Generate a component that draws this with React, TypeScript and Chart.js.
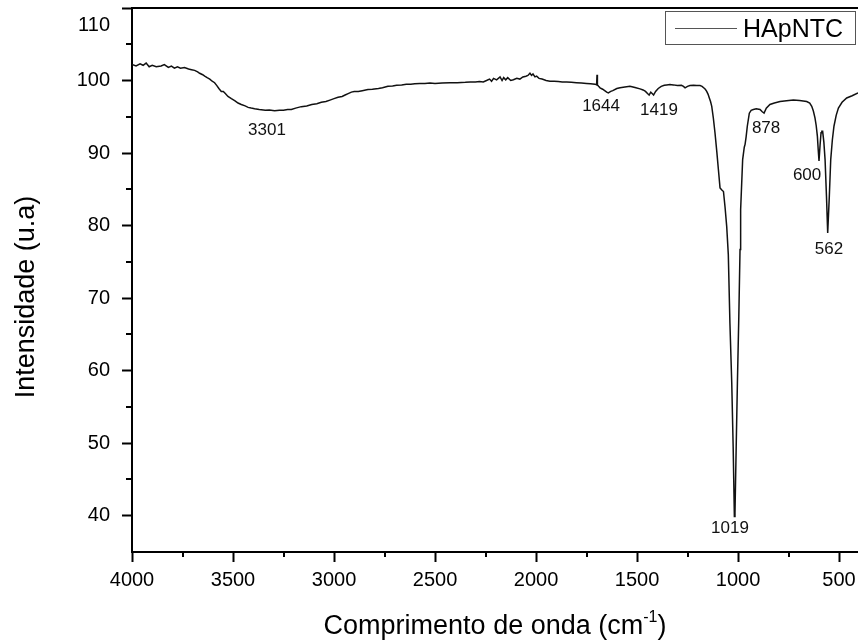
import React, { useEffect, useRef } from 'react';
import { Chart, registerables } from 'chart.js';

Chart.register(...registerables);
Chart.defaults.font.family = "'Liberation Sans', Arial, sans-serif";

const seriesLabel = 'HApNTC';
const xTitleMain = 'Comprimento de onda (cm';
const xTitleSup = '-1';
const xTitleEnd = ')';
const yTitle = 'Intensidade (u.a)';

const wavenumbers = [
  4000, 3980, 3960, 3945, 3930, 3915, 3900, 3880, 3856, 3840,
  3820, 3805, 3790, 3775, 3760, 3740, 3720, 3705, 3690, 3675,
  3665, 3650, 3640, 3628, 3615, 3603, 3591, 3580, 3570, 3558,
  3548, 3538, 3525, 3508, 3490, 3475, 3459, 3440, 3425, 3410,
  3393, 3370, 3340, 3320, 3294, 3270, 3250, 3230, 3211, 3190,
  3162, 3135, 3110, 3085, 3063, 3040, 3020, 3000, 2980, 2960,
  2945, 2930, 2914, 2900, 2880, 2860, 2832, 2810, 2780, 2760,
  2733, 2710, 2690, 2665, 2642, 2620, 2600, 2575, 2550, 2525,
  2500, 2465, 2426, 2390, 2350, 2325, 2300, 2280, 2261, 2245,
  2230, 2220, 2210, 2195, 2178, 2168, 2160, 2150, 2140, 2125,
  2112, 2095, 2080, 2065, 2050, 2040, 2030, 2022, 2015, 2005,
  1997, 1985, 1970, 1950, 1931, 1910, 1890, 1870, 1848, 1825,
  1800, 1775, 1750, 1730, 1708, 1700, 1698, 1696, 1690, 1683,
  1670, 1660, 1650, 1642, 1630, 1620, 1600, 1584, 1560, 1535,
  1510, 1485, 1470, 1458, 1448, 1440, 1432, 1425, 1418, 1408,
  1395, 1380, 1365, 1353, 1337, 1320, 1300, 1280, 1270, 1262,
  1250, 1238, 1220, 1205, 1188, 1178, 1170, 1162, 1155, 1148,
  1142, 1136, 1130, 1122, 1114, 1105, 1097, 1089, 1080, 1072,
  1064, 1056, 1048, 1040, 1031, 1024, 1018, 1015, 1009, 1003,
  996, 990, 987, 977, 969, 965, 960, 954, 944, 935,
  924, 910, 891, 880, 871, 860, 842, 820, 792, 760,
  726, 695, 660, 645, 635, 627, 619, 613, 607, 603,
  599, 594, 589, 585, 581, 575, 569, 562, 556, 548,
  541, 533, 525, 514, 503, 485, 462, 435, 406,
];

const intensity = [
  102.2, 102.0, 102.3, 102.1, 102.4, 101.9, 102.1, 101.9, 102.0, 102.2,
  101.8, 102.0, 101.7, 101.9, 101.7, 101.8, 101.6, 101.5, 101.4, 101.2,
  101.0, 100.8, 100.6, 100.4, 100.2, 99.9, 99.7, 99.3, 98.9, 98.5,
  98.5, 98.2, 97.8, 97.5, 97.2, 96.9, 96.7, 96.5, 96.3, 96.2,
  96.1, 96.0, 95.9, 95.95, 95.85, 95.9, 95.9, 96.0, 96.0, 96.2,
  96.4, 96.5, 96.7, 96.8, 97.0, 97.1, 97.3, 97.5, 97.7, 97.8,
  98.0, 98.2, 98.4, 98.5, 98.5, 98.6, 98.75, 98.8, 98.9, 99.0,
  99.2, 99.25, 99.35, 99.4, 99.5, 99.5, 99.55, 99.6, 99.6, 99.65,
  99.6, 99.65, 99.7, 99.7, 99.75, 99.8, 99.8, 99.85, 99.8, 100.0,
  100.2, 99.9, 100.3, 100.1, 100.5, 100.0, 100.4, 100.1, 100.4, 100.0,
  100.1, 100.3, 100.2, 100.5, 100.6, 100.7, 101.0, 100.7, 100.9, 100.5,
  100.6, 100.3, 100.2, 100.0, 99.9, 99.9, 99.85, 99.8, 99.8, 99.75,
  99.7, 99.65, 99.6, 99.55, 99.5, 99.4, 100.8, 99.4, 99.2, 99.0,
  98.8, 98.6, 98.4, 98.3, 98.5, 98.6, 98.9, 99.0, 99.1, 99.2,
  99.05, 98.85, 98.7, 98.5, 98.2, 98.0, 98.4, 98.2, 98.0, 98.5,
  98.9, 99.2, 99.35, 99.4, 99.45, 99.4, 99.3, 99.35, 99.2, 99.0,
  99.2, 99.3, 99.35, 99.3, 99.3, 99.2, 99.0, 98.8, 98.5, 98.1,
  97.6, 97.1, 96.45, 94.8, 92.8, 90.2, 87.7, 85.2, 84.9, 84.7,
  82.5, 79.9, 76.0, 66.5, 58.3, 49.5, 39.9, 40.4, 49.5, 58.3,
  67.5, 76.7, 82.2, 89.1, 90.8, 91.2, 92.2, 93.7, 95.5, 95.9,
  96.0, 96.1, 96.0, 95.7, 95.5, 96.2, 96.7, 96.9, 97.1, 97.2,
  97.3, 97.25, 97.1, 96.9, 96.45, 95.8, 94.85, 93.8, 92.3, 90.5,
  88.9, 91.0, 92.8, 93.0, 93.0, 91.5, 89.1, 84.0, 79.0, 84.0,
  89.1, 91.8, 93.7, 95.2, 96.2, 97.0, 97.6, 97.9, 98.3,
];

const xTickValues = [4000, 3500, 3000, 2500, 2000, 1500, 1000, 500];
const xMinorTickValues = [3750, 3250, 2750, 2250, 1750, 1250, 750];
const yTickValues = [40, 50, 60, 70, 80, 90, 100, 110];
const yMinorTickValues = [45, 55, 65, 75, 85, 95, 105];

const peakLabels = ['3301', '1644', '1419', '1019', '878', '600', '562'];
const peakLabelX = [3332, 1678, 1391, 1040, 861, 658, 550];
const peakLabelY = [93.1, 96.4, 95.85, 38.2, 93.45, 87.0, 76.7];

const FONT = "'Liberation Sans', Arial, sans-serif";

const decorPlugin = {
  id: 'decor',
  afterDraw(chart: any) {
    const { ctx, chartArea, scales } = chart;
    const xs = scales.x;
    const ys = scales.y;
    ctx.save();
    // top frame line
    ctx.strokeStyle = '#000';
    ctx.lineWidth = 2;
    ctx.beginPath();
    ctx.moveTo(chartArea.left - 1, chartArea.top);
    ctx.lineTo(chartArea.right, chartArea.top);
    ctx.stroke();
    // minor ticks
    ctx.lineWidth = 2;
    ctx.beginPath();
    xMinorTickValues.forEach((v) => {
      const px = Math.round(xs.getPixelForValue(v));
      ctx.moveTo(px, chartArea.bottom);
      ctx.lineTo(px, chartArea.bottom + 5);
    });
    yMinorTickValues.forEach((v) => {
      const py = Math.round(ys.getPixelForValue(v));
      ctx.moveTo(chartArea.left, py);
      ctx.lineTo(chartArea.left - 6, py);
    });
    ctx.stroke();
    // top y tick label (shifted down like the original)
    ctx.fillStyle = '#000';
    ctx.font = `20px ${FONT}`;
    ctx.textAlign = 'right';
    ctx.textBaseline = 'middle';
    ctx.fillText(String(yTickValues[yTickValues.length - 1]), chartArea.left - 22, ys.getPixelForValue(yTickValues[yTickValues.length - 1]) + 17);
    // peak annotations
    ctx.font = `17px ${FONT}`;
    ctx.textAlign = 'center';
    ctx.fillStyle = '#111';
    peakLabels.forEach((t, i) => {
      ctx.fillText(t, xs.getPixelForValue(peakLabelX[i]), ys.getPixelForValue(peakLabelY[i]));
    });
    // legend
    ctx.strokeStyle = '#555';
    ctx.lineWidth = 1;
    ctx.strokeRect(665.5, 11.5, 190, 33);
    ctx.strokeStyle = '#555';
    ctx.lineWidth = 1.2;
    ctx.beginPath();
    ctx.moveTo(675, 28.5);
    ctx.lineTo(737, 28.5);
    ctx.stroke();
    ctx.fillStyle = '#000';
    ctx.font = `25px ${FONT}`;
    ctx.textAlign = 'left';
    ctx.textBaseline = 'alphabetic';
    ctx.fillText(chart.data.datasets[0].label, 743, 37);
    // x title with superscript
    ctx.font = `27px ${FONT}`;
    const w1 = ctx.measureText(xTitleMain).width;
    ctx.font = `16px ${FONT}`;
    const w2 = ctx.measureText(xTitleSup).width;
    ctx.font = `27px ${FONT}`;
    const w3 = ctx.measureText(xTitleEnd).width;
    const total = w1 + w2 + w3;
    const cx = (chartArea.left + chartArea.right) / 2;
    let sx = cx - total / 2;
    const base = 634;
    ctx.fillText(xTitleMain, sx, base);
    sx += w1;
    ctx.font = `16px ${FONT}`;
    ctx.fillText(xTitleSup, sx, base - 12);
    sx += w2;
    ctx.font = `27px ${FONT}`;
    ctx.fillText(xTitleEnd, sx, base);
    // y title
    ctx.translate(34, 297);
    ctx.rotate(-Math.PI / 2);
    ctx.textAlign = 'center';
    ctx.fillText(yTitle, 0, 0);
    ctx.restore();
  },
};

export default function App() {
  const ref = useRef<HTMLCanvasElement>(null);
  useEffect(() => {
    const canvas = ref.current;
    if (!canvas) return;
    const chart = new Chart(canvas, {
      type: 'line',
      data: {
        datasets: [
          {
            label: seriesLabel,
            data: wavenumbers.map((x, i) => ({ x, y: intensity[i] })),
            borderColor: '#111',
            borderWidth: 1.5,
            pointRadius: 0,
            tension: 0,
            fill: false,
          },
        ],
      },
      options: {
        responsive: false,
        animation: false,
        devicePixelRatio: 1,
        layout: { padding: { top: 8, right: 0, bottom: 0, left: 0 } },
        plugins: { legend: { display: false }, tooltip: { enabled: false } },
        scales: {
          x: {
            type: 'linear',
            reverse: true,
            min: 406,
            max: 4000,
            afterBuildTicks: (s: any) => {
              s.ticks = xTickValues.map((v) => ({ value: v }));
            },
            afterFit: (s: any) => {
              s.height = 91;
              s.paddingLeft = 0;
              s.paddingRight = 0;
            },
            grid: { drawOnChartArea: false, drawTicks: true, tickLength: 10, tickWidth: 2, tickColor: '#000' },
            border: { display: true, color: '#000', width: 2 },
            ticks: {
              color: '#000',
              font: { size: 20 },
              padding: 6,
              maxRotation: 0,
              autoSkip: false,
              callback: (v: any) => String(v),
            },
          },
          y: {
            type: 'linear',
            min: 35,
            max: 110,
            afterBuildTicks: (s: any) => {
              s.ticks = yTickValues.map((v) => ({ value: v }));
            },
            afterFit: (s: any) => {
              s.width = 132;
              s.paddingTop = 0;
              s.paddingBottom = 0;
            },
            grid: { drawOnChartArea: false, drawTicks: true, tickLength: 10, tickWidth: 2, tickColor: '#000' },
            border: { display: true, color: '#000', width: 2 },
            ticks: {
              color: '#000',
              font: { size: 20 },
              padding: 12,
              autoSkip: false,
              callback: (v: any) => (v === 110 ? '' : String(v)),
            },
          },
        },
      },
      plugins: [decorPlugin],
    } as any);
    return () => chart.destroy();
  }, []);
  return (
    <div style={{ position: 'absolute', left: 0, top: 0, width: 858, height: 643, background: '#fff' }}>
      <canvas ref={ref} width={858} height={643} style={{ display: 'block', width: 858, height: 643 }} />
    </div>
  );
}
